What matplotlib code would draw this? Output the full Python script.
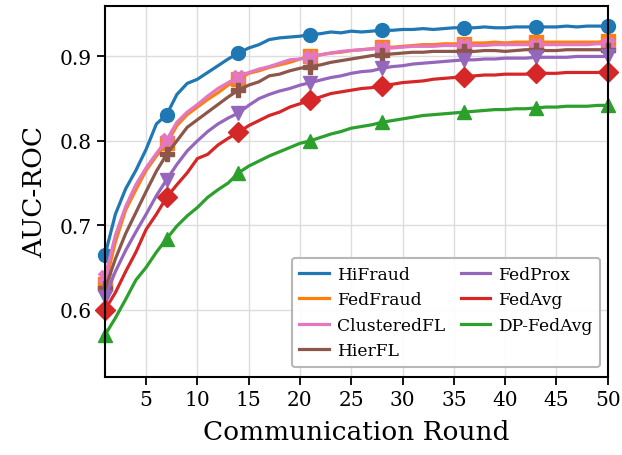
import numpy as np
import matplotlib
matplotlib.use("Agg")
import matplotlib.pyplot as plt

rounds = np.arange(1, 51)

hifraud = [0.665, 0.713, 0.743, 0.765, 0.790, 0.820, 0.831, 0.855, 0.868, 0.873,
           0.881, 0.889, 0.897, 0.904, 0.910, 0.914, 0.920, 0.922, 0.923, 0.924,
           0.926, 0.927, 0.929, 0.928, 0.930, 0.929, 0.930, 0.931, 0.931, 0.932,
           0.932, 0.933, 0.932, 0.933, 0.934, 0.934, 0.934, 0.935, 0.934, 0.934,
           0.935, 0.935, 0.935, 0.935, 0.935, 0.936, 0.935, 0.936, 0.936, 0.936]
fedfraud = [0.630, 0.680, 0.718, 0.742, 0.765, 0.782, 0.797, 0.818, 0.831, 0.840,
            0.849, 0.857, 0.866, 0.873, 0.880, 0.883, 0.887, 0.890, 0.893, 0.897,
            0.900, 0.902, 0.904, 0.905, 0.907, 0.908, 0.909, 0.911, 0.911, 0.912,
            0.913, 0.914, 0.914, 0.915, 0.915, 0.915, 0.916, 0.916, 0.917, 0.916,
            0.917, 0.917, 0.917, 0.917, 0.917, 0.917, 0.917, 0.917, 0.917, 0.918]
clusteredfl = [0.639, 0.688, 0.722, 0.748, 0.768, 0.785, 0.801, 0.822, 0.834, 0.843,
               0.853, 0.862, 0.869, 0.876, 0.881, 0.885, 0.888, 0.892, 0.896, 0.897,
               0.899, 0.902, 0.904, 0.906, 0.907, 0.908, 0.909, 0.910, 0.910, 0.911,
               0.912, 0.912, 0.912, 0.913, 0.913, 0.913, 0.913, 0.913, 0.914, 0.914,
               0.914, 0.914, 0.914, 0.914, 0.914, 0.914, 0.914, 0.914, 0.915, 0.915]
hierfl = [0.625, 0.660, 0.690, 0.715, 0.740, 0.764, 0.784, 0.800, 0.816, 0.825,
          0.834, 0.843, 0.852, 0.860, 0.866, 0.870, 0.877, 0.879, 0.883, 0.886,
          0.888, 0.890, 0.893, 0.895, 0.897, 0.899, 0.901, 0.902, 0.903, 0.904,
          0.905, 0.905, 0.906, 0.906, 0.906, 0.906, 0.906, 0.907, 0.907, 0.906,
          0.907, 0.908, 0.908, 0.907, 0.907, 0.908, 0.908, 0.908, 0.908, 0.908]
fedprox = [0.615, 0.645, 0.670, 0.692, 0.713, 0.735, 0.754, 0.772, 0.788, 0.800,
           0.811, 0.820, 0.827, 0.833, 0.842, 0.850, 0.855, 0.859, 0.862, 0.866,
           0.869, 0.872, 0.875, 0.877, 0.880, 0.882, 0.883, 0.886, 0.888, 0.889,
           0.891, 0.892, 0.893, 0.894, 0.895, 0.896, 0.896, 0.897, 0.897, 0.898,
           0.898, 0.898, 0.899, 0.899, 0.899, 0.899, 0.900, 0.900, 0.900, 0.900]
fedavg = [0.600, 0.620, 0.645, 0.668, 0.695, 0.713, 0.733, 0.748, 0.762, 0.779,
          0.784, 0.795, 0.803, 0.810, 0.818, 0.824, 0.830, 0.834, 0.840, 0.844,
          0.848, 0.852, 0.856, 0.858, 0.860, 0.862, 0.863, 0.865, 0.867, 0.869,
          0.870, 0.871, 0.873, 0.874, 0.875, 0.876, 0.877, 0.878, 0.878, 0.879,
          0.879, 0.879, 0.880, 0.880, 0.880, 0.881, 0.881, 0.881, 0.881, 0.882]
dp_fedavg = [0.570, 0.590, 0.612, 0.635, 0.650, 0.668, 0.684, 0.699, 0.711, 0.721,
             0.733, 0.742, 0.750, 0.762, 0.770, 0.776, 0.782, 0.787, 0.792, 0.797,
             0.800, 0.804, 0.808, 0.811, 0.815, 0.817, 0.819, 0.822, 0.824, 0.826,
             0.828, 0.830, 0.831, 0.832, 0.833, 0.834, 0.835, 0.836, 0.837, 0.837,
             0.838, 0.838, 0.839, 0.840, 0.840, 0.841, 0.841, 0.841, 0.842, 0.842]

methods = ['HiFraud', 'FedFraud', 'ClusteredFL', 'HierFL', 'FedProx', 'FedAvg', 'DP-FedAvg']
curves = [hifraud, fedfraud, clusteredfl, hierfl, fedprox, fedavg, dp_fedavg]
colors = ['#1f77b4', '#ff7f0e', '#e377c2', '#8c564b', '#9467bd', '#d62728', '#2ca02c']
markers = ['o', 's', 'X', 'P', 'v', 'D', '^']
# rounds that get a marker
mark_idx = [0, 6, 13, 20, 27, 35, 42, 49]

plt.rcParams['font.family'] = 'DejaVu Serif'

fig = plt.figure(figsize=(6.22, 4.56), dpi=100)
ax = fig.add_axes([0.169, 0.171, 0.808, 0.814])

for name, vals, c, m in zip(methods, curves, colors, markers):
    ax.plot(rounds, vals, color=c, lw=2.3, label=name)
    ax.plot(rounds, vals, color=c, lw=0, marker=m, markersize=10,
            markevery=mark_idx, clip_on=False)

ax.set_xlim(1, 50)
ax.set_ylim(0.52, 0.96)
ax.set_xticks(np.arange(5, 51, 5))
ax.set_yticks([0.6, 0.7, 0.8, 0.9])
ax.grid(True, color='#dddddd', lw=1)
ax.set_axisbelow(True)
ax.tick_params(labelsize=14.5, length=6, width=1.3, direction='out')
for s in ax.spines.values():
    s.set_linewidth(1.5)

ax.set_xlabel('Communication Round', fontsize=19, labelpad=7)
ax.set_ylabel('AUC-ROC', fontsize=19, labelpad=9)

leg = ax.legend(loc='lower right', bbox_to_anchor=(0.985, 0.027), borderaxespad=0,
                ncol=2, fontsize=12.3, handlelength=1.75, handletextpad=0.45,
                columnspacing=0.9, borderpad=0.45, labelspacing=0.5,
                edgecolor='#b0b0b0', framealpha=0.9)
leg.get_frame().set_linewidth(1.5)

fig.savefig('out.png', dpi=100)
